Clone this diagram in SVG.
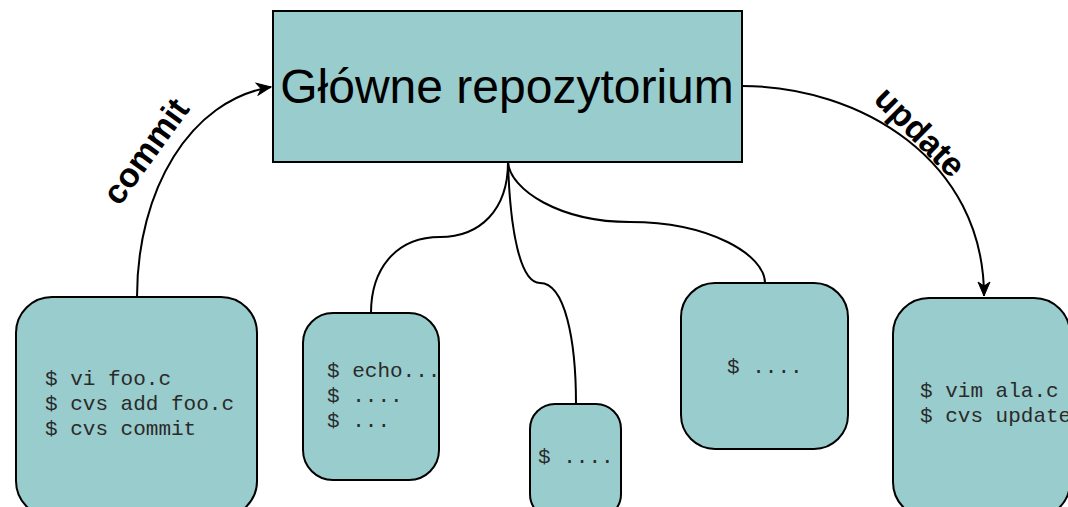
<svg xmlns="http://www.w3.org/2000/svg" width="1068" height="507" viewBox="0 0 1068 507">
<defs>
<style>
.box{fill:#99cccc;stroke:#000;stroke-width:2}
.mono{font-family:"Liberation Mono","Courier New",monospace;font-size:21px;fill:#2a2a2a}
.conn{fill:none;stroke:#000;stroke-width:2}
.lbl{font-family:"Liberation Sans",Arial,sans-serif;font-size:34px;font-weight:bold;fill:#000}
</style>
<marker id="arr" markerUnits="userSpaceOnUse" markerWidth="16" markerHeight="14" refX="15" refY="7" orient="auto">
<path d="M1,1 L15,7 L1,13 L5,7 z" fill="#000" stroke="#000" stroke-width="1"/>
</marker>
</defs>
<rect width="1068" height="507" fill="#fff"/>
<g id="connectors">
<path class="conn" d="M137,297 C137,190 190,100 271,87" marker-end="url(#arr)"/>
<path class="conn" d="M742,86 C860,86 984,160 984,296" marker-end="url(#arr)"/>
<path class="conn" d="M508,162 C508,210 480,237 440,237 C395,237 371,270 371,313"/>
<path class="conn" d="M508,162 C510,230 520,283 540,283 C565,283 576,340 576,404"/>
<path class="conn" d="M508,162 C510,190 560,222 630,222 C710,222 765,255 765,283"/>
<text class="lbl" transform="translate(155,158) rotate(-54)" text-anchor="middle">commit</text>
<text class="lbl" transform="translate(912,140) rotate(45)" text-anchor="middle">update</text>
</g>
<g id="main">
<rect class="box" x="273" y="11" width="469" height="151"/>
<text x="507" y="103" text-anchor="middle" font-family="'Liberation Sans',Arial,sans-serif" font-size="48" fill="#000">Główne repozytorium</text>
</g>
<g id="node1">
<rect class="box" x="16" y="297" width="241" height="220" rx="36" ry="36"/>
<text class="mono" x="45" y="385">$ vi foo.c</text>
<text class="mono" x="45" y="410">$ cvs add foo.c</text>
<text class="mono" x="45" y="435">$ cvs commit</text>
</g>
<g id="node2">
<rect class="box" x="303" y="313" width="136" height="167" rx="30" ry="30"/>
<text class="mono" x="327" y="377">$ echo...</text>
<text class="mono" x="327" y="402">$ ....</text>
<text class="mono" x="327" y="427">$ ...</text>
</g>
<g id="node3">
<rect class="box" x="530" y="404" width="91" height="115" rx="25" ry="25"/>
<text class="mono" x="538" y="463">$ ....</text>
</g>
<g id="node4">
<rect class="box" x="681" y="283" width="167" height="166" rx="34" ry="34"/>
<text class="mono" x="727" y="373">$ ....</text>
</g>
<g id="node5">
<rect class="box" x="893" y="298" width="177" height="220" rx="36" ry="36"/>
<text class="mono" x="920" y="397">$ vim ala.c</text>
<text class="mono" x="920" y="422">$ cvs update</text>
</g>
</svg>
